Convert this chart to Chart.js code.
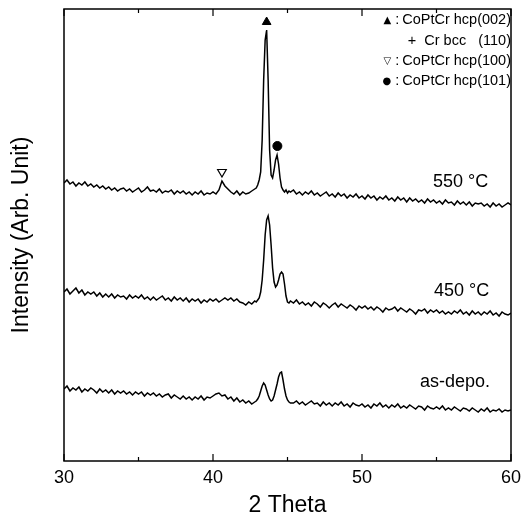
<!DOCTYPE html>
<html>
<head>
<meta charset="utf-8">
<script src="https://cdn.jsdelivr.net/npm/chart.js@4.4.1/dist/chart.umd.min.js"></script>
<style>
  html, body { margin: 0; padding: 0; background: #fff; }
  canvas { display: block; }
</style>
</head>
<body>
<canvas id="xrd" width="531" height="520"></canvas>
<script>
// 2 theta positions (deg), finer step around the peaks
const theta = [
  30, 30.2, 30.4, 30.6, 30.8, 31, 31.2, 31.4, 31.6, 31.8,
  32, 32.2, 32.4, 32.6, 32.8, 33, 33.2, 33.4, 33.6, 33.8,
  34, 34.2, 34.4, 34.6, 34.8, 35, 35.2, 35.4, 35.6, 35.8,
  36, 36.2, 36.4, 36.6, 36.8, 37, 37.2, 37.4, 37.6, 37.8,
  38, 38.2, 38.4, 38.6, 38.8, 39, 39.2, 39.4, 39.6, 39.8,
  40, 40.2, 40.4, 40.6, 40.8, 41, 41.2, 41.4, 41.6, 41.8,
  42, 42.2, 42.4, 42.6, 42.8,
  42.9, 43, 43.1, 43.2, 43.3, 43.4, 43.5, 43.6, 43.7, 43.8, 43.9, 44,
  44.1, 44.2, 44.3, 44.4, 44.5, 44.6, 44.7, 44.8, 44.9, 45, 45.1, 45.2,
  45.4, 45.6, 45.8, 46, 46.2, 46.4, 46.6, 46.8, 47, 47.2, 47.4, 47.6, 47.8,
  48, 48.2, 48.4, 48.6, 48.8, 49, 49.2, 49.4, 49.6, 49.8,
  50, 50.2, 50.4, 50.6, 50.8, 51, 51.2, 51.4, 51.6, 51.8,
  52, 52.2, 52.4, 52.6, 52.8, 53, 53.2, 53.4, 53.6, 53.8,
  54, 54.2, 54.4, 54.6, 54.8, 55, 55.2, 55.4, 55.6, 55.8,
  56, 56.2, 56.4, 56.6, 56.8, 57, 57.2, 57.4, 57.6, 57.8,
  58, 58.2, 58.4, 58.6, 58.8, 59, 59.2, 59.4, 59.6, 59.8, 60
];

// intensities (arb. unit, curves already stacked)
const int550 = [
  277, 280, 276, 278, 274, 277, 275, 278, 274, 276,
  273, 275, 272, 274, 271, 273, 270, 272, 269, 271,
  272, 269, 271, 268, 270, 272, 268, 270, 273, 269,
  270, 268, 271, 267, 269, 268, 270, 266, 269, 267,
  269, 266, 268, 265, 268, 266, 269, 265, 267, 266,
  268, 266, 270, 279, 274, 271, 268, 266, 269, 265,
  268, 266, 267, 269, 271,
  272, 275, 280, 288, 320, 380, 420, 430, 380, 310, 285, 282,
  290, 300, 305, 296, 282, 273, 270, 268, 270, 267, 269, 268,
  270, 266, 268, 265, 268, 266, 269, 265, 267, 264, 266, 268, 264,
  266, 263, 267, 264, 266, 262, 265, 263, 266, 262,
  264, 261, 265, 262, 264, 260, 263, 261, 264, 260,
  262, 259, 263, 260, 262, 258, 262, 259, 261, 258,
  260, 257, 261, 258, 260, 257, 259, 256, 260, 257,
  258, 255, 259, 256, 258, 255, 258, 254, 257, 256,
  257, 254, 256, 253, 257, 254, 256, 253, 255, 257, 255
];
const int450 = [
  168, 171, 166, 169, 172, 167, 170, 165, 168, 166,
  168, 164, 167, 163, 166, 163, 166, 162, 165, 163,
  164, 161, 165, 162, 164, 162, 165, 161, 163, 160,
  163, 160, 162, 164, 160, 162, 159, 163, 160, 162,
  159, 162, 158, 161, 159, 161, 157, 160, 158, 161,
  159, 161, 158, 160, 162, 160, 162, 159, 161, 158,
  157, 155, 158, 156, 159,
  158, 160, 162, 168, 180, 200, 225, 240, 244, 235, 215, 192,
  178, 173, 175, 180, 186, 188, 186, 176, 164, 158, 157, 159,
  157, 160, 156, 158, 155, 157, 154, 158, 156, 153, 157, 155, 152,
  155, 157, 153, 156, 154, 152, 155, 153, 150, 154,
  152, 154, 151, 153, 150, 153, 151, 148, 152, 150,
  151, 153, 149, 152, 150, 148, 151, 149, 146, 150,
  149, 151, 147, 150, 148, 150, 147, 149, 146, 148,
  146, 149, 147, 150, 146, 148, 145, 149, 146, 148,
  145, 148, 146, 149, 145, 147, 144, 148, 146, 145, 147
];
const intDepo = [
  71, 74, 69, 72, 70, 73, 68, 71, 69, 72,
  70, 67, 71, 68, 70, 67, 70, 66, 69, 67,
  69, 66, 68, 65, 68, 66, 68, 64, 67, 65,
  67, 64, 66, 63, 65, 66, 62, 65, 63, 61,
  64, 61, 63, 60, 63, 61, 64, 60, 63, 62,
  64, 66, 67, 64, 65, 61, 63, 59, 62, 58,
  60, 57, 59, 56, 58,
  59, 61, 64, 69, 74, 77, 75, 70, 65, 61, 59, 60,
  64, 70, 76, 83, 87, 88, 80, 71, 64, 60, 58, 57,
  57, 59, 56, 58, 55, 57, 59, 56, 57, 54, 58, 55, 57,
  54, 57, 55, 58, 54, 56, 53, 57, 55, 54,
  56, 53, 55, 52, 56, 54, 57, 53, 55, 52,
  55, 53, 56, 52, 54, 52, 55, 53, 51, 54,
  53, 50, 54, 52, 51, 53, 51, 54, 50, 52,
  50, 53, 51, 49, 52, 51, 49, 52, 50, 48,
  51, 49, 52, 48, 50, 49, 51, 48, 50, 49, 50
];

// peak markers: hcp(002)+bcc(110), hcp(100), hcp(101)
const markTheta = [43.6, 40.6, 44.32];
const markInt = [438, 288, 314];

const curveNames = ["550 °C", "450 °C", "as-depo."];
const xTicks = [30, 40, 50, 60];
const legendText = ["CoPtCr hcp(002)", "+  Cr bcc   (110)", "CoPtCr hcp(100)", "CoPtCr hcp(101)"];
const legendSym = ["▲", "", "▽", "●"];

const FONT = "'Liberation Sans', Arial, Helvetica, sans-serif";

function pts(arr) {
  return theta.map((t, i) => ({ x: t, y: arr[i] }));
}

// frame, inward ticks, curve labels and the key
const decor = {
  id: "decor",
  afterDraw(chart) {
    const ctx = chart.ctx;
    const a = chart.chartArea;
    const xs = chart.scales.x;
    ctx.save();
    ctx.strokeStyle = "#000";
    ctx.lineWidth = 1.5;
    ctx.strokeRect(a.left, a.top, a.right - a.left, a.bottom - a.top);
    ctx.lineWidth = 1.2;
    for (let v = 30; v <= 60; v += 5) {
      const px = xs.getPixelForValue(v);
      const len = v % 10 === 0 ? 7 : 4;
      ctx.beginPath();
      ctx.moveTo(px, a.bottom);
      ctx.lineTo(px, a.bottom - len);
      ctx.moveTo(px, a.top);
      ctx.lineTo(px, a.top + len);
      ctx.stroke();
    }

    ctx.fillStyle = "#000";
    ctx.textBaseline = "middle";
    ctx.textAlign = "left";
    ctx.font = "18px " + FONT;
    ctx.fillText(curveNames[0], 433, 182);
    ctx.fillText(curveNames[1], 434, 291);
    ctx.fillText(curveNames[2], 420, 382);

    ctx.textAlign = "right";
    const ly = [20, 41, 61, 81];
    for (let i = 0; i < legendText.length; i++) {
      ctx.font = "14.5px " + FONT;
      const w = ctx.measureText(legendText[i]).width;
      ctx.fillText(legendText[i], 511, ly[i]);
      if (legendSym[i]) {
        ctx.fillText(":", 511 - w - 3, ly[i]);
        ctx.font = "10px 'DejaVu Sans', sans-serif";
        ctx.fillText(legendSym[i], 511 - w - 11, ly[i]);
      }
    }
    ctx.restore();
  }
};

new Chart(document.getElementById("xrd"), {
  type: "line",
  data: {
    datasets: [
      { data: pts(int550), borderColor: "#000", borderWidth: 1.5, pointRadius: 0, tension: 0 },
      { data: pts(int450), borderColor: "#000", borderWidth: 1.5, pointRadius: 0, tension: 0 },
      { data: pts(intDepo), borderColor: "#000", borderWidth: 1.5, pointRadius: 0, tension: 0 },
      {
        type: "scatter",
        data: [{ x: markTheta[0], y: markInt[0] }],
        pointStyle: "triangle", pointRadius: 5, backgroundColor: "#000", borderColor: "#000", borderWidth: 1
      },
      {
        type: "scatter",
        data: [{ x: markTheta[1], y: markInt[1] }],
        pointStyle: "triangle", rotation: 180, pointRadius: 5, backgroundColor: "#fff", borderColor: "#000", borderWidth: 1.2
      },
      {
        type: "scatter",
        data: [{ x: markTheta[2], y: markInt[2] }],
        pointStyle: "circle", pointRadius: 4.5, backgroundColor: "#000", borderColor: "#000", borderWidth: 1
      }
    ]
  },
  options: {
    responsive: false,
    animation: false,
    devicePixelRatio: 1,
    layout: { padding: { left: 0, right: 20, top: 9, bottom: 0 } },
    plugins: { legend: { display: false }, tooltip: { enabled: false } },
    scales: {
      x: {
        type: "linear",
        min: 30,
        max: 60,
        afterFit: s => { s.height = 59; },
        afterBuildTicks: s => { s.ticks = xTicks.map(v => ({ value: v })); },
        grid: { display: false, drawTicks: false },
        border: { display: false },
        ticks: { color: "#000", padding: 6, font: { family: FONT, size: 18 } },
        title: {
          display: true,
          text: "2 Theta",
          color: "#000",
          padding: { top: 0, bottom: 3 },
          font: { family: FONT, size: 23, lineHeight: 1 }
        }
      },
      y: {
        min: -1,
        max: 451,
        afterFit: s => { s.width = 64; },
        grid: { display: false, drawTicks: false },
        border: { display: false },
        ticks: { display: false },
        title: {
          display: true,
          text: "Intensity (Arb. Unit)",
          color: "#000",
          padding: { top: 10, bottom: 0 },
          font: { family: FONT, size: 23, lineHeight: 1 }
        }
      }
    }
  },
  plugins: [decor]
});
</script>
</body>
</html>
